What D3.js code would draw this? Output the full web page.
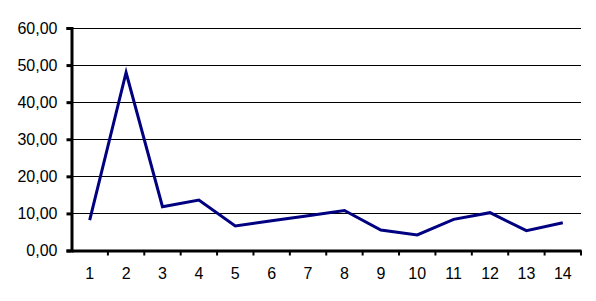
<!DOCTYPE html>
<html>
<head>
<meta charset="utf-8">
<script src="https://d3js.org/d3.v7.min.js"></script>
<style>
  body { margin: 0; background: #fff; }
  .tick text { font-family: Arial, "Liberation Sans", sans-serif; font-size: 16px; fill: #000; }
  .grid line { stroke: #000; stroke-width: 1px; }
  .line { fill: none; stroke: #000080; stroke-width: 3px; stroke-linejoin: miter; }
</style>
</head>
<body>
<div id="chart"></div>
<script>
// data
var categories = ["1","2","3","4","5","6","7","8","9","10","11","12","13","14"];
var values = [8.2, 48.0, 11.8, 13.6, 6.6, 8.0, 9.4, 10.8, 5.5, 4.2, 8.4, 10.2, 5.35, 7.5];
var yTicks = [0, 10, 20, 30, 40, 50, 60];

var width = 596, height = 301;
var margin = {top: 28, right: 15, bottom: 50.5, left: 71.5};

var svg = d3.select("#chart").append("svg")
    .attr("width", width)
    .attr("height", height);

var x = d3.scaleBand()
    .domain(categories)
    .range([margin.left, width - margin.right])
    .padding(0);

var y = d3.scaleLinear()
    .domain([0, 60])
    .range([height - margin.bottom, margin.top]);

var fmt = function(d) { return d3.format(".2f")(d).replace(".", ","); };

// gridlines
svg.append("g")
    .attr("class", "grid")
    .selectAll("line")
    .data(yTicks.slice(1))
    .enter().append("line")
    .attr("x1", margin.left)
    .attr("x2", width - margin.right)
    .attr("y1", function(d) { return Math.round(y(d)) + 0.5; })
    .attr("y2", function(d) { return Math.round(y(d)) + 0.5; });

// y axis
var yAxis = svg.append("g")
    .attr("transform", "translate(" + margin.left + ",0)")
    .call(d3.axisLeft(y).tickValues(yTicks).tickFormat(fmt).tickSize(5).tickPadding(9));
yAxis.select(".domain").attr("stroke-width", 3);
yAxis.selectAll(".tick line").attr("stroke-width", 3);

// x axis
var xAxis = svg.append("g")
    .attr("transform", "translate(0," + (height - margin.bottom) + ")")
    .call(d3.axisBottom(x).tickSize(0).tickPadding(17));
xAxis.select(".domain").attr("stroke-width", 3);

// tick marks on the category boundaries
xAxis.selectAll(".bound")
    .data(categories)
    .enter().append("line")
    .attr("x1", function(d) { return x(d) + x.bandwidth(); })
    .attr("x2", function(d) { return x(d) + x.bandwidth(); })
    .attr("y1", 0)
    .attr("y2", 5)
    .attr("stroke", "#000")
    .attr("stroke-width", 2);

// series line
var line = d3.line()
    .x(function(d, i) { return x(categories[i]) + x.bandwidth() / 2; })
    .y(function(d) { return y(d); });

svg.append("path")
    .datum(values)
    .attr("class", "line")
    .attr("d", line);
</script>
</body>
</html>
